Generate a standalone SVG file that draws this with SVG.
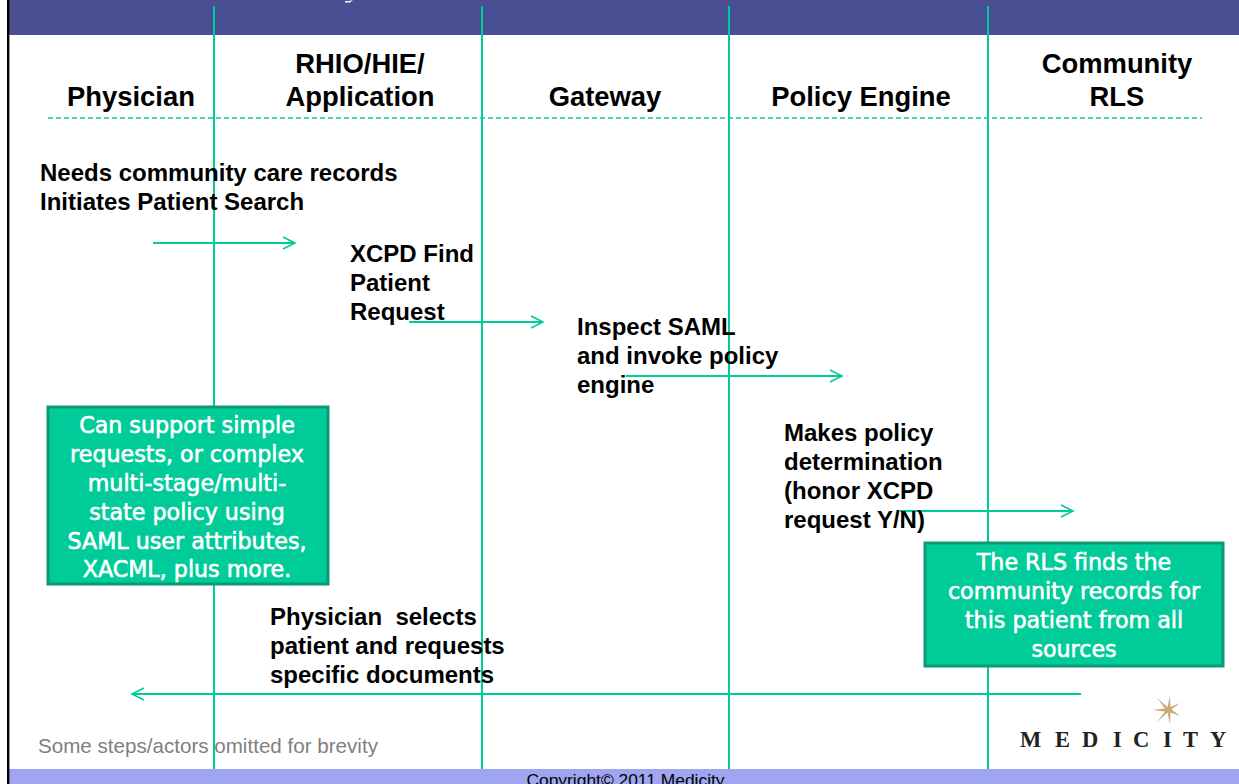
<svg xmlns="http://www.w3.org/2000/svg" width="1239" height="784" viewBox="0 0 1239 784">
<style>
.h{font:bold 27.4px "Liberation Sans",Arial,sans-serif;fill:#000;text-anchor:middle}
.t{font:bold 24px "Liberation Sans",Arial,sans-serif;fill:#000;white-space:pre}
.b{font:22.2px "DejaVu Sans",Verdana,sans-serif;fill:#fff;stroke:#fff;stroke-width:.6;text-anchor:middle}
.l{stroke:#00cc99;stroke-width:2;fill:none}
.box{fill:#00cc99;stroke:#0a9a76;stroke-width:3}
</style>
<defs>
<marker id="a" markerUnits="userSpaceOnUse" markerWidth="16" markerHeight="16" refX="13" refY="7" orient="auto"><path d="M1 1 L13 7 L1 13" fill="none" stroke="#00cc99" stroke-width="1.6"/></marker>
</defs>
<rect width="1239" height="784" fill="#fff"/>
<g id="frame">
<rect x="9" y="0" width="1230" height="35" fill="#484f93"/>
<rect x="9" y="769" width="1230" height="15" fill="#9fa5ef"/>
<rect x="7" y="0" width="2.4" height="784" fill="#000"/>
<path d="M345 1 L349 1 L353 0 L350 2.4 L345 2.6Z" fill="#fff"/>
</g>
<g id="connectors">
<path class="l" d="M214 6V769M482 6V769M729 6V769M988 6V769"/>
<path d="M48 118H1202" stroke="#00cc99" stroke-width="1.3" stroke-dasharray="5 3" fill="none"/>
<path class="l" marker-end="url(#a)" d="M153 243H295"/>
<path class="l" marker-end="url(#a)" d="M409 322H543"/>
<path class="l" marker-end="url(#a)" d="M626 376H842"/>
<path class="l" marker-end="url(#a)" d="M900 511H1073"/>
<path class="l" marker-end="url(#a)" d="M1081 694H132"/>
</g>
<g id="physician"><text class="h" x="131" y="106">Physician</text></g>
<g id="rhio"><text class="h" x="360" y="73">RHIO/HIE/</text><text class="h" x="360" y="106">Application</text></g>
<g id="gateway"><text class="h" x="605" y="106">Gateway</text></g>
<g id="policy-engine"><text class="h" x="861" y="106">Policy Engine</text></g>
<g id="community-rls"><text class="h" x="1117" y="73">Community</text><text class="h" x="1117" y="106">RLS</text></g>
<g id="step-search"><text class="t" x="40" y="181">Needs community care records</text><text class="t" x="40" y="210">Initiates Patient Search</text></g>
<g id="step-xcpd"><text class="t" x="350" y="262">XCPD Find</text><text class="t" x="350" y="291">Patient</text><text class="t" x="350" y="320">Request</text></g>
<g id="step-inspect"><text class="t" x="577" y="335">Inspect SAML</text><text class="t" x="577" y="364">and invoke policy</text><text class="t" x="577" y="393">engine</text></g>
<g id="step-policy"><text class="t" x="784" y="441">Makes policy</text><text class="t" x="784" y="470">determination</text><text class="t" x="784" y="499">(honor XCPD</text><text class="t" x="784" y="528">request Y/N)</text></g>
<g id="step-select"><text class="t" x="270" y="625">Physician  selects</text><text class="t" x="270" y="654">patient and requests</text><text class="t" x="270" y="683">specific documents</text></g>
<g id="note-saml"><rect class="box" x="48" y="407" width="280" height="177"/>
<text class="b" x="187" y="433">Can support simple</text><text class="b" x="187" y="462">requests, or complex</text><text class="b" x="187" y="491">multi-stage/multi-</text><text class="b" x="187" y="520">state policy using</text><text class="b" x="187" y="549">SAML user attributes,</text><text class="b" x="187" y="577">XACML, plus more.</text></g>
<g id="note-rls"><rect class="box" x="925" y="543" width="298" height="123"/>
<text class="b" x="1074" y="570">The RLS finds the</text><text class="b" x="1074" y="599">community records for</text><text class="b" x="1074" y="628">this patient from all</text><text class="b" x="1074" y="657">sources</text></g>
<g id="omitted"><text x="38" y="753" style="font:20.6px 'Liberation Sans',Arial,sans-serif;fill:#808080">Some steps/actors omitted for brevity</text></g>
<g id="logo">
<path d="M1170 696L1170.5 707L1180 703L1171.5 709.5L1180 716L1170.5 712.5L1170 724L1167.5 712.5L1157 722L1165 711.5L1152 710L1165 708.5L1157 698L1167.5 707Z" fill="#c9a97a"/>
<text x="1020 1055 1082 1113 1133 1163 1183 1210" y="747" style="font:bold 22.5px 'Liberation Serif',serif;fill:#222">MEDICITY</text>
</g>
<g id="copyright"><text x="625.5" y="786" text-anchor="middle" style="font:17.4px 'Liberation Sans',Arial,sans-serif;fill:#000">Copyright© 2011 Medicity</text></g>
</svg>
